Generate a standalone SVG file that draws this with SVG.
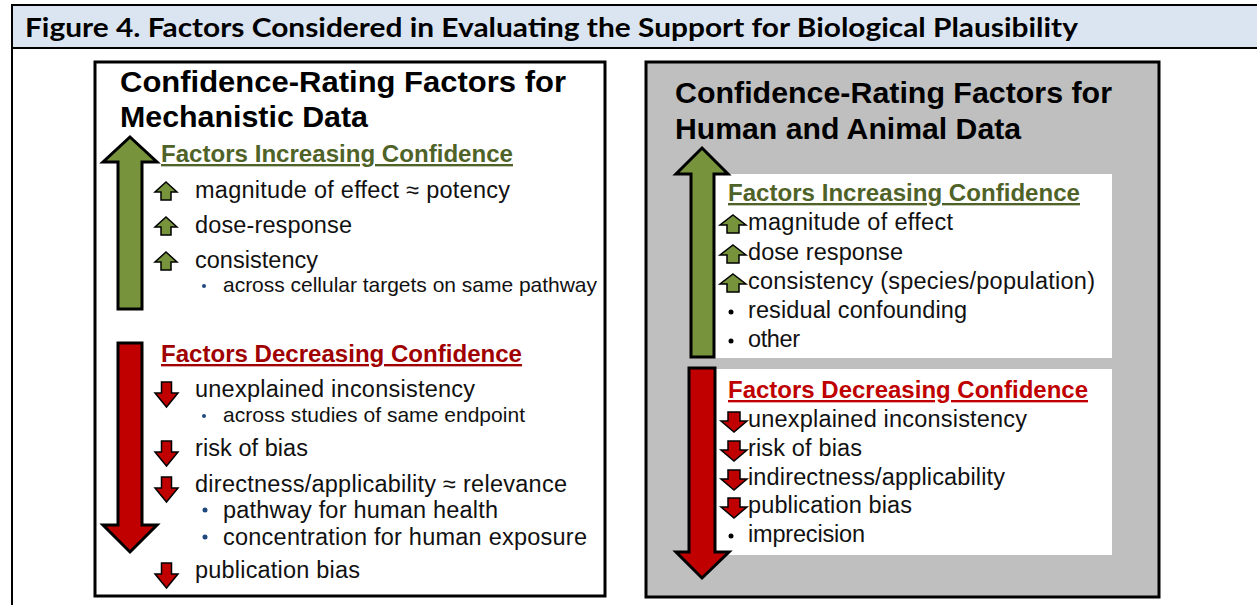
<svg xmlns="http://www.w3.org/2000/svg" width="1257" height="605" viewBox="0 0 1257 605">
<style>
.hdr{font-family:Lato,"Open Sans","Liberation Sans",sans-serif;font-weight:bold;font-size:26px;fill:#000}
.ttl{font-family:"Liberation Sans",Arial,sans-serif;font-weight:bold;font-size:29px;fill:#000}
.hg{font-family:"Liberation Sans",Arial,sans-serif;font-weight:bold;font-size:23.5px;fill:#4f6228;text-decoration:underline}
.hr{font-family:"Liberation Sans",Arial,sans-serif;font-weight:bold;font-size:23.5px;fill:#a00000;text-decoration:underline}
.hr2{font-family:"Liberation Sans",Arial,sans-serif;font-weight:bold;font-size:23.5px;fill:#c00000;text-decoration:underline}
.it{font-family:"Liberation Sans",Arial,sans-serif;font-size:23.5px;fill:#111}
.sm{font-family:"Liberation Sans",Arial,sans-serif;font-size:21px;fill:#111}
.bl{fill:#1f497d}
.big{stroke:#000;stroke-width:3;stroke-linejoin:miter}
.ic{stroke:#000;stroke-width:1.5}
.g{fill:#77933c}
.r{fill:#c00000}
</style>
<defs>
<polygon id="upL" class="ic g" points="11,0 22,10 16,10 16,18 6,18 6,10 0,10"/>
<polygon id="dnL" class="ic r" points="6.5,0 16.5,0 16.5,11 23,11 11.5,25 0,11 6.5,11"/>
<polygon id="upR" class="ic g" points="13,0 26,10 19,10 19,18 7,18 7,10 0,10"/>
<polygon id="dnR" class="ic r" points="7,0 19,0 19,9 26,9 13,20 0,9 7,9"/>
</defs>
<rect x="0" y="0" width="1257" height="605" fill="#fff"/>
<g id="header">
<rect x="12" y="5" width="1250" height="43" fill="#dbe5f1" stroke="#000" stroke-width="2"/>
<line x1="12" y1="48" x2="12" y2="605" stroke="#000" stroke-width="2"/>
<text class="hdr" x="25" y="37" textLength="1053" lengthAdjust="spacingAndGlyphs">Figure 4. Factors Considered in Evaluating the Support for Biological Plausibility</text>
</g>
<g id="mechanistic-panel">
<rect x="95" y="62" width="510" height="534" fill="#fff" stroke="#000" stroke-width="3"/>
<text class="ttl" x="120" y="92" textLength="446" lengthAdjust="spacingAndGlyphs">Confidence-Rating  Factors for</text>
<text class="ttl" x="120" y="127" textLength="248" lengthAdjust="spacingAndGlyphs">Mechanistic Data</text>
</g>
<g id="mech-increasing">
<polygon class="big g" points="130,137 157,162 142,162 142,309 118,309 118,162 103,162"/>
<text class="hg" x="161" y="162" textLength="352" lengthAdjust="spacingAndGlyphs">Factors Increasing Confidence</text>
<use href="#upL" x="155" y="182"/>
<text class="it" x="195" y="198" textLength="315" lengthAdjust="spacing">magnitude  of effect ≈ potency</text>
<use href="#upL" x="155" y="217"/>
<text class="it" x="195" y="233" textLength="157" lengthAdjust="spacing">dose-response</text>
<use href="#upL" x="155" y="252"/>
<text class="it" x="195" y="268" textLength="123" lengthAdjust="spacing">consistency</text>
<circle class="bl" cx="204" cy="286" r="2"/>
<text class="sm" x="223" y="292" textLength="374" lengthAdjust="spacing">across cellular targets on same pathway</text>
</g>
<g id="mech-decreasing">
<polygon class="big r" points="118,343 142,343 142,525 157,525 130,552 103,525 118,525"/>
<text class="hr" x="161" y="362" textLength="361" lengthAdjust="spacingAndGlyphs">Factors Decreasing Confidence</text>
<use href="#dnL" x="155" y="382"/>
<text class="it" x="195" y="397" textLength="280" lengthAdjust="spacing">unexplained  inconsistency</text>
<circle class="bl" cx="204" cy="416" r="2"/>
<text class="sm" x="223" y="422" textLength="302" lengthAdjust="spacing">across studies of same endpoint</text>
<use href="#dnL" x="155" y="441"/>
<text class="it" x="195" y="456" textLength="113" lengthAdjust="spacing">risk of bias</text>
<use href="#dnL" x="155" y="477"/>
<text class="it" x="195" y="492" textLength="372" lengthAdjust="spacing">directness/applicability ≈ relevance</text>
<circle class="bl" cx="205" cy="510" r="2.5"/>
<text class="it" x="223" y="518" textLength="275" lengthAdjust="spacing">pathway for human health</text>
<circle class="bl" cx="205" cy="537" r="2.5"/>
<text class="it" x="223" y="545" textLength="364" lengthAdjust="spacing">concentration for human exposure</text>
<use href="#dnL" x="155" y="563"/>
<text class="it" x="195" y="578" textLength="165" lengthAdjust="spacing">publication bias</text>
</g>
<g id="human-animal-panel">
<rect x="646" y="62" width="513" height="535" fill="#bfbfbf" stroke="#000" stroke-width="3"/>
<text class="ttl" x="675" y="103" textLength="437" lengthAdjust="spacingAndGlyphs">Confidence-Rating Factors for</text>
<text class="ttl" x="675" y="139" textLength="346" lengthAdjust="spacingAndGlyphs">Human and Animal Data</text>
<rect x="714" y="174" width="398" height="184" fill="#fff"/>
<rect x="715" y="369" width="397" height="186" fill="#fff"/>
</g>
<g id="ha-increasing">
<polygon class="big g" points="702,148 728,174 714,174 714,357 691,357 691,174 676,174"/>
<text class="hg" x="728" y="201" textLength="352" lengthAdjust="spacingAndGlyphs">Factors Increasing Confidence</text>
<use href="#upR" x="720" y="215"/>
<text class="it" x="748" y="230" textLength="205" lengthAdjust="spacing">magnitude of effect</text>
<use href="#upR" x="720" y="245"/>
<text class="it" x="748" y="260" textLength="155" lengthAdjust="spacing">dose response</text>
<use href="#upR" x="720" y="274"/>
<text class="it" x="748" y="289" textLength="347" lengthAdjust="spacing">consistency (species/population)</text>
<circle cx="731" cy="312" r="2.5" fill="#000"/>
<text class="it" x="748" y="318" textLength="219" lengthAdjust="spacing">residual confounding</text>
<circle cx="731" cy="341" r="2.5" fill="#000"/>
<text class="it" x="748" y="347" textLength="52" lengthAdjust="spacing">other</text>
</g>
<g id="ha-decreasing">
<polygon class="big r" points="689,368 715,368 715,552 729,552 702,578 676,552 689,552"/>
<text class="hr2" x="728" y="398" textLength="360" lengthAdjust="spacingAndGlyphs">Factors Decreasing Confidence</text>
<use href="#dnR" x="721" y="412"/>
<text class="it" x="748" y="427" textLength="279" lengthAdjust="spacing">unexplained  inconsistency</text>
<use href="#dnR" x="721" y="441"/>
<text class="it" x="748" y="456" textLength="114" lengthAdjust="spacing">risk of bias</text>
<use href="#dnR" x="721" y="470"/>
<text class="it" x="748" y="485" textLength="257" lengthAdjust="spacing">indirectness/applicability</text>
<use href="#dnR" x="721" y="498"/>
<text class="it" x="748" y="513" textLength="164" lengthAdjust="spacing">publication bias</text>
<circle cx="731" cy="536" r="2.5" fill="#000"/>
<text class="it" x="748" y="542" textLength="117" lengthAdjust="spacing">imprecision</text>
</g>
</svg>
